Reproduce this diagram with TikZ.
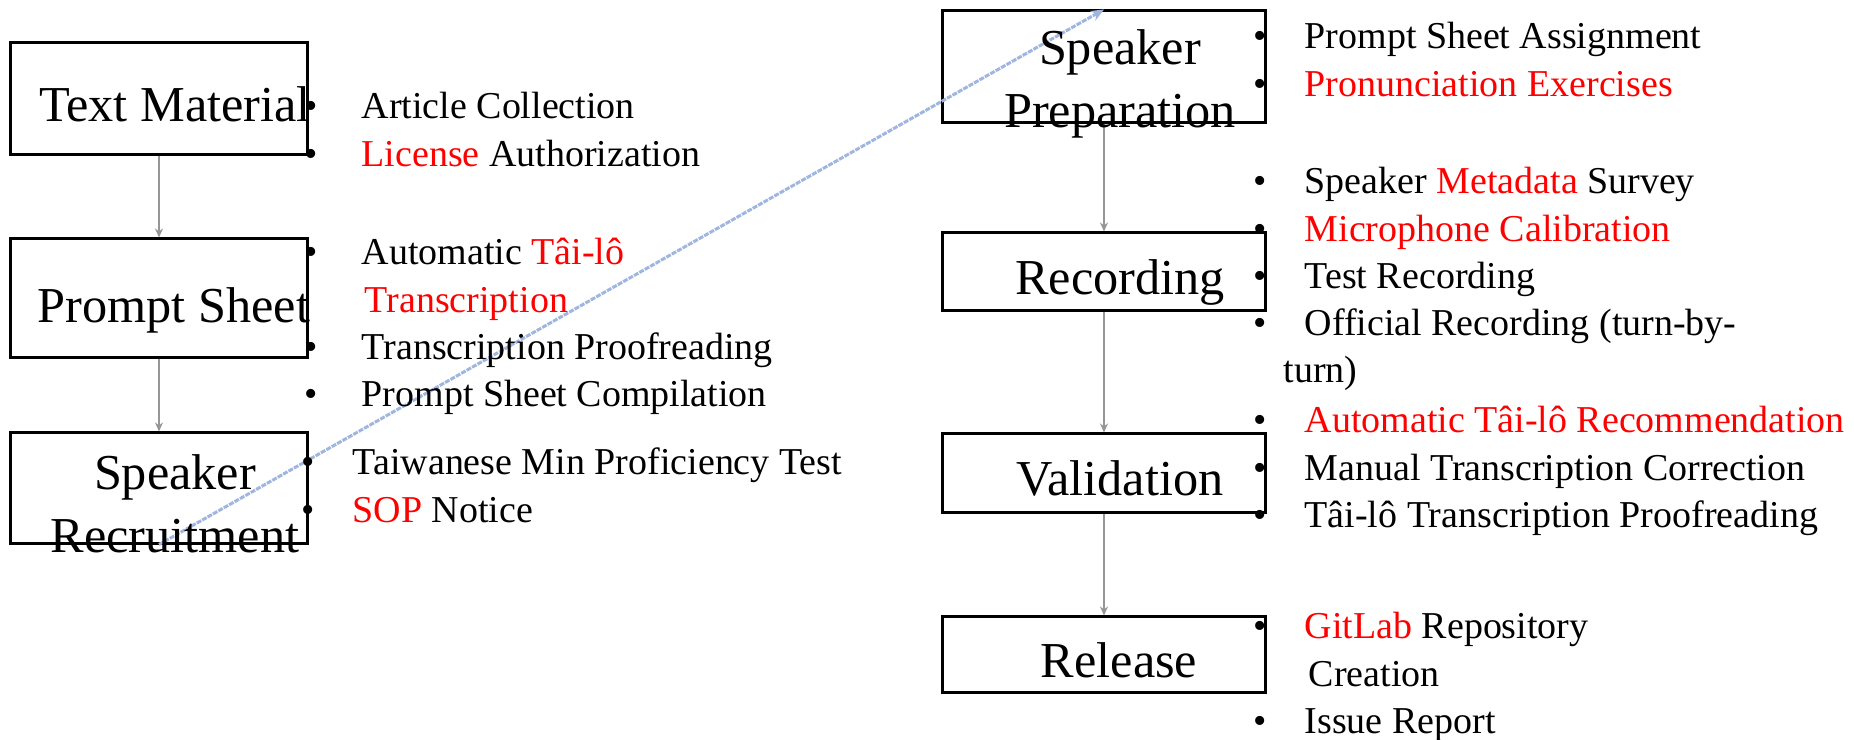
\documentclass[tikz,border=0pt]{standalone}
\usepackage{fontspec}
\setmainfont{Liberation Serif}
\usetikzlibrary{arrows.meta}

\definecolor{flowgray}{RGB}{150,150,150}
\definecolor{linkblue}{RGB}{160,182,222}

\newcommand{\itm}[2][0.45cm]{\makebox[0pt]{\textbullet}\hspace{#1}#2}
\newcommand{\hl}[1]{\textcolor{red}{#1}}

\tikzset{
  stage/.style={draw, line width=0.03cm, inner sep=0pt},
  stagelbl/.style={anchor=base, inner sep=0pt, font=\fontsize{14.3pt}{17.9pt}\selectfont},
  steplist/.style={anchor=base west, inner sep=0pt, font=\fontsize{10.8pt}{13.37pt}\selectfont},
  flow/.style={draw=flowgray, line width=0.015cm, -{Stealth[length=0.09cm,width=0.08cm]}},
  jump/.style={draw=linkblue, line width=0.03cm, dash pattern=on 0.05cm off 0.012cm,
    -{Stealth[length=0.13cm,width=0.11cm]}}
}

\begin{document}
\begin{tikzpicture}[x=0.01cm, y=-0.01cm]
  \useasboundingbox (0,0) rectangle (1854,740);

  % left column boxes
  \node[stage, minimum width=2.96cm, minimum height=1.11cm] (tm) at (159,98.5) {};
  \node[stage, minimum width=2.96cm, minimum height=1.18cm] (ps) at (159,298) {};
  \node[stage, minimum width=2.96cm, minimum height=1.10cm] (sr) at (159,488) {};
  % right column boxes
  \node[stage, minimum width=3.22cm, minimum height=1.11cm] (sp) at (1104,66.5) {};
  \node[stage, minimum width=3.22cm, minimum height=0.77cm] (rec) at (1104,271.5) {};
  \node[stage, minimum width=3.22cm, minimum height=0.78cm] (val) at (1104,473) {};
  \node[stage, minimum width=3.22cm, minimum height=0.75cm] (rel) at (1104,654.5) {};

  % connectors
  \draw[jump] (sr.south) -- (sp.north);
  \draw[flow] (tm.south) -- (ps.north);
  \draw[flow] (ps.south) -- (sr.north);
  \draw[flow] (sp.south) -- (rec.north);
  \draw[flow] (rec.south) -- (val.north);
  \draw[flow] (val.south) -- (rel.north);

  % box labels
  \node[stagelbl] (tm-lbl) at (175,122) {Text Material};
  \node[stagelbl] (ps-lbl) at (174,323) {Prompt Sheet};
  \node[stagelbl] (sr-lbl) at (175,490) {\begin{tabular}[t]{@{}c@{}}Speaker\\Recruitment\end{tabular}};
  \node[stagelbl] (sp-lbl) at (1120,65) {\begin{tabular}[t]{@{}c@{}}Speaker\\Preparation\end{tabular}};
  \node[stagelbl] (rec-lbl) at (1120,295) {Recording};
  \node[stagelbl] (val-lbl) at (1120,496) {Validation};
  \node[stagelbl] (rel-lbl) at (1119,678) {Release};

  % bullet lists
  \node[steplist] (tm-list) at (310,119) {\begin{tabular}[t]{@{}l@{}}
    \itm[0.51cm]{Article Collection}\\
    \itm[0.51cm]{\hl{License} Authorization}
  \end{tabular}};
  \node[steplist] (ps-list) at (310,265) {\begin{tabular}[t]{@{}l@{}}
    \itm[0.51cm]{Automatic \hl{Tâi-lô}}\\
    \hspace{0.54cm}\hl{Transcription}\\
    \itm[0.51cm]{Transcription Proofreading}\\
    \itm[0.51cm]{Prompt Sheet Compilation}
  \end{tabular}};
  \node[steplist] (sr-list) at (307,475) {\begin{tabular}[t]{@{}l@{}}
    \itm{Taiwanese Min Proficiency Test}\\
    \itm{\hl{SOP} Notice}
  \end{tabular}};
  \node[steplist] (sp-list) at (1259,49) {\begin{tabular}[t]{@{}l@{}}
    \itm{Prompt Sheet Assignment}\\
    \itm{\hl{Pronunciation Exercises}}
  \end{tabular}};
  \node[steplist] (rec-list) at (1259,194) {\begin{tabular}[t]{@{}l@{}}
    \itm{Speaker \hl{Metadata} Survey}\\
    \itm{\hl{Microphone Calibration}}\\
    \itm{Test Recording}\\
    \itm{Official Recording (turn-by-}\\
    \hspace{0.24cm}turn)
  \end{tabular}};
  \node[steplist] (val-list) at (1259,433) {\begin{tabular}[t]{@{}l@{}}
    \itm{\hl{Automatic Tâi-lô Recommendation}}\\
    \itm{Manual Transcription Correction}\\
    \itm{Tâi-lô Transcription Proofreading}
  \end{tabular}};
  \node[steplist] (rel-list) at (1259,639) {\begin{tabular}[t]{@{}l@{}}
    \itm{\hl{GitLab} Repository}\\
    \hspace{0.49cm}Creation\\
    \itm{Issue Report}
  \end{tabular}};
\end{tikzpicture}
\end{document}
